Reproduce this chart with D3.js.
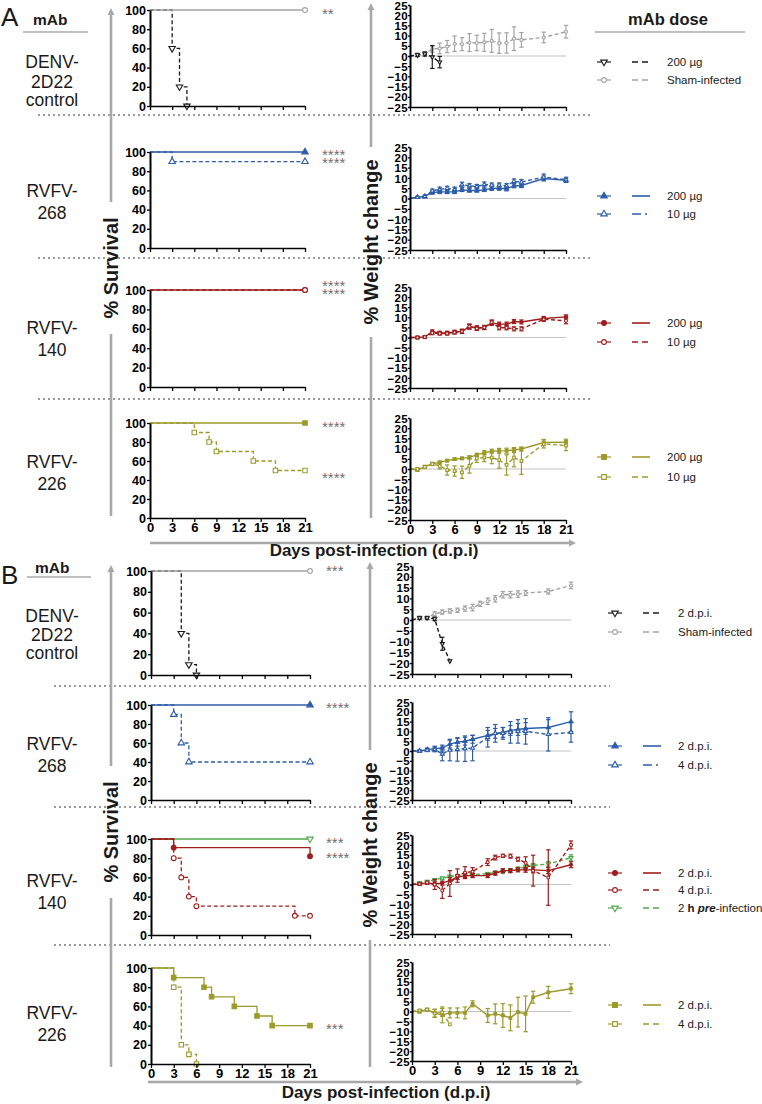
<!DOCTYPE html>
<html><head><meta charset="utf-8">
<script src="https://cdn.jsdelivr.net/npm/d3@7"></script>
<style>body{margin:0;background:#fff;} svg{display:block;font-family:"Liberation Sans",Arial,sans-serif;}</style>
</head><body><svg id="c" width="762" height="1104"></svg>
<script>
// ================= DATA =================
const DAY_TICKS = [0,3,6,9,12,15,18,21];
const SURV_TICKS = [0,20,40,60,80,100];
const WEIGHT_TICKS = [-25,-20,-15,-10,-5,0,5,10,15,20,25];

const ROW_LABELS = [["DENV-","2D22","control"],["RVFV-","268"],["RVFV-","140"],["RVFV-","226"]];
const LEGEND_A = [["200 µg","Sham-infected"],["200 µg","10 µg"],["200 µg","10 µg"],["200 µg","10 µg"]];
const LEGEND_B = [["2 d.p.i.","Sham-infected"],["2 d.p.i.","4 d.p.i."],["2 d.p.i.","4 d.p.i.","2 h pre-infection"],["2 d.p.i.","4 d.p.i."]];
const STARS_A = [["**"],["****","****"],["****","****"],["****"],["****"]];
const STARS_B = [["***"],["****"],["***"],["****"],["***"]];

// survival: [day, % surviving]
const survA_denv_200  = [[0,100],[3,60],[4,20],[5,0]];
const survA_denv_sham = [[0,100],[21,100]];
const survA_268_200   = [[0,100],[21,100]];
const survA_268_10    = [[0,100],[3,90],[21,90]];
const survA_140_200   = [[0,100],[21,100]];
const survA_140_10    = [[0,100],[21,100]];
const survA_226_200   = [[0,100],[21,100]];
const survA_226_10    = [[0,100],[6,90],[8,80],[9,70],[14,60],[17,50],[21,50]];

const survB_denv_2dpi = [[0,100],[4,40],[5,10],[6,0]];
const survB_denv_sham = [[0,100],[21,100]];
const survB_268_2dpi  = [[0,100],[21,100]];
const survB_268_4dpi  = [[0,100],[3,90],[4,60],[5,40],[21,40]];
const survB_140_2dpi  = [[0,100],[3,91],[21,82]];
const survB_140_4dpi  = [[0,100],[3,80],[4,60],[5,40],[6,30],[19,20],[21,20]];
const survB_140_pre   = [[0,100],[21,100]];
const survB_226_2dpi  = [[0,100],[3,90],[7,80],[8,70],[11,60],[14,50],[16,40],[21,40]];
const survB_226_4dpi  = [[0,100],[3,80],[4,20],[5,10],[6,0]];

// weight change: [day, mean %, error]
const wA_denv_sham = [[0,0,0],[1,0.5,0.7],[2,1,1],[3,3.4,1.5],[4,3.7,2.6],[5,4.6,3],[6,6,3.8],[7,5.8,3.2],[8,6.6,4.4],[9,6.4,3.8],[10,6.7,4.4],[11,7.4,5.6],[12,6.3,5],[13,6.4,5],[14,8.5,5.8],[15,7.9,3.6],[18,9.1,2.6],[21,11.9,3.1]];
const wA_denv_200  = [[0,0,0],[1,0.5,0.8],[2,1,1],[3,-0.5,5.6],[4,-3,2.8]];
const wA_268_200 = [[0,0,0],[1,0.6,0.4],[2,1,0.6],[3,2.9,0.8],[4,3.2,0.8],[5,3.2,0.8],[6,3.2,0.8],[7,4.2,0.8],[8,3.9,0.8],[9,3.9,0.8],[10,4.2,0.8],[11,4.9,1],[12,5,1],[13,4.7,1],[14,6.2,1],[15,6.3,1],[18,9.7,1.2],[21,8.8,1]];
const wA_268_10  = [[0,0,0],[1,0.6,0.4],[2,1,0.6],[3,3.7,0.9],[4,4.5,1],[5,4.9,1],[6,4.5,1],[7,6.7,1.2],[8,6.2,1],[9,5.8,1],[10,6.8,1.2],[11,6.5,1],[12,6.5,1],[13,6.2,1],[14,8.3,1.2],[15,8,1.2],[18,10.4,1.5],[21,9.1,1.2]];
const wA_140_200 = [[0,0,0],[1,0,0.6],[2,0.3,0.6],[3,2.8,1],[4,2.3,0.8],[5,2.3,0.8],[6,2.8,0.8],[7,3.1,1],[8,5.3,1.2],[9,4.8,1],[10,4.9,1],[11,7.2,1.2],[12,6.6,1],[13,6.6,1],[14,7.9,1],[15,7.7,1],[18,9.4,1],[21,10.2,1]];
const wA_140_10  = [[0,0,0],[1,0,0.6],[2,0.2,0.6],[3,2.2,0.8],[4,2,0.8],[5,2,0.8],[6,2.5,0.8],[7,3,1],[8,5.5,1.2],[9,4.5,1],[10,5,1],[11,7.5,1.2],[12,4.8,1],[13,4.8,1],[14,4.3,1],[15,4.3,1],[18,9,1],[21,8.3,1.5]];
const wA_226_200 = [[0,0,0],[1,-0.5,0.6],[2,1.1,0.6],[3,2.5,0.6],[4,3.3,0.6],[5,4.1,0.6],[6,4.8,0.6],[7,5.2,0.6],[8,5.7,0.8],[9,6.9,0.8],[10,8,1],[11,8.7,1],[12,8.9,1.2],[13,9,1.2],[14,9.3,1.2],[15,9.8,1],[18,13,1.5],[21,13.1,1.5]];
const wA_226_10  = [[0,0,0],[1,0,0.6],[2,1,0.8],[3,2.5,0.8],[4,1.5,1.5],[5,-0.5,2.5],[6,-1,2.5],[7,-1.6,3],[8,1.5,3.5],[9,5.2,2],[10,5.6,2],[11,5.6,3],[12,4.4,4],[13,2,5],[14,5.6,4.5],[15,3.9,6.5],[18,12.3,2],[21,11.5,2.5]];

const wB_denv_sham = [[0,0,0],[1,1,0.8],[2,1,0.8],[3,2.8,1],[4,3.7,1],[5,4.2,1],[6,4.5,1],[7,5.3,1.2],[8,5.7,1.5],[9,7.5,1.2],[10,8.7,1.5],[11,9.8,1.5],[12,11.7,1.5],[13,11.7,1.5],[14,12,1.5],[15,12.5,1.2],[18,13.2,1.2],[21,16,1.5]];
const wB_denv_2dpi = [[0,0,0],[1,1,0.6],[2,1,0.6],[3,0.5,0.8],[4,-11,3],[5,-19,0]];
const wB_268_2dpi = [[0,0,0],[1,0,0.5],[2,0.7,0.8],[3,1.2,1.2],[4,1.5,1.5],[5,3.5,2],[6,4.5,2],[7,5,2],[8,6,2],[10,8,2.5],[11,9,2.5],[12,9.5,2.5],[13,10.5,2.5],[14,11,3],[15,11.5,3],[18,12,4],[21,15,5]];
const wB_268_4dpi = [[0,0,0],[1,0,0.5],[2,0.5,0.8],[3,0.8,1.2],[4,-1.5,3.5],[5,0.5,5.5],[6,0.8,6],[7,1.2,6.5],[8,1.5,6.5],[10,7,5],[11,9,4.5],[12,9,3],[13,9.5,5.5],[14,10,6],[15,10,6.5],[18,8.5,8.5],[21,9.5,5]];
const wB_140_2dpi = [[0,0,0],[1,0.3,0.6],[2,0.8,0.6],[3,0.3,1],[4,0.7,1],[5,2,1.5],[6,3.7,1.2],[7,4.5,1],[8,4.5,1],[10,4.5,1],[11,5.7,1],[12,7,1],[13,7,1],[14,7.4,1],[15,7.4,1.2],[16,7.4,1.5],[18,7,1.5],[21,10,1.5]];
const wB_140_4dpi = [[0,0,0],[1,0.3,0.6],[2,1,0.6],[3,0,2.5],[4,-3,4],[5,0.5,6.5],[6,4.5,3.4],[7,6,3],[8,6.5,2],[10,11.3,1.7],[11,13.6,1.2],[12,14.5,0.8],[13,14.3,1],[14,12.8,1],[15,11,3],[16,7,7.8],[18,3.5,14],[21,20,2]];
const wB_140_pre  = [[0,0,0],[1,0.8,0.5],[2,1.5,0.5],[3,2.4,0.6],[4,3.2,0.6],[5,4,0.6],[6,4.3,0.6],[7,4.8,0.6],[8,5,0.6],[10,5.5,0.6],[11,6,0.8],[12,6.5,0.8],[13,7,0.8],[14,7.9,1],[15,8.8,1],[16,9.6,1],[18,10.4,1.2],[21,13.5,1.5]];
const wB_226_2dpi = [[0,0,0],[1,0,0.8],[2,1,0.5],[3,-0.8,2],[4,-1.7,4],[5,-0.7,2.5],[6,-0.7,2.5],[7,-0.7,3],[8,3.9,1.5],[10,-2,3.5],[11,-1.2,5],[12,-2,6],[13,-3.2,6.5],[14,-0.3,7.5],[15,-1.2,9],[16,7.2,3],[18,9.7,3],[21,11.5,2.5]];
const wB_226_4dpi = [[0,0,0],[1,0.5,0.6],[2,1,0.6],[3,-1,2],[4,-0.5,2],[5,-6.5,0]];

// ================= STYLE / LAYOUT =================
const C = {black:"#1b1b1b", gray:"#a3a3a3", blue:"#2e5da8", red:"#9f1d1d", olive:"#9c9a2b", green:"#4fa84a"};
const svg = d3.select("#c");
const FONT = "'Liberation Sans', Arial, sans-serif";

function sym(type){
  return {tri:d3.symbolTriangle, itri:d3.symbolTriangle, circ:d3.symbolCircle, sq:d3.symbolSquare}[type];
}
function drawMarker(g, cx, cy, s, size){
  return g.append("path").attr("d", d3.symbol().type(sym(s.sym)).size(size)())
    .attr("transform", `translate(${cx},${cy})` + (s.sym==="itri" ? " rotate(180)" : ""))
    .attr("fill", s.filled ? s.color : "#fff").attr("stroke", s.color).attr("stroke-width", 1.1);
}
function styleAxis(sel, fs){
  sel.select(".domain").attr("stroke","#000").attr("stroke-width",1.6);
  sel.selectAll(".tick line").attr("stroke","#000").attr("stroke-width",1.3);
  sel.selectAll(".tick text").attr("font-family",FONT).attr("font-weight","bold").attr("font-size",fs).attr("fill","#000");
}

function survPanel(L, series, showLabels){
  const x = d3.scaleLinear().domain([0,21]).range([L.x0,L.x1]);
  const y = d3.scaleLinear().domain([0,100]).range([L.yb,L.yt]);
  const g = svg.append("g");
  const line = d3.line().x(d=>x(d[0])).y(d=>y(d[1])).curve(d3.curveStepAfter);
  series.forEach(s=>{
    g.append("path").attr("d", line(s.data)).attr("fill","none").attr("stroke",s.color)
      .attr("stroke-width",1.3).attr("stroke-dasharray", s.dash ? "4,2.5" : null);
  });
  series.forEach(s=>{
    s.data.filter(d=>d[0]>0).forEach(d=> drawMarker(g, x(d[0]), y(d[1]), s, s.sym==="sq"?20:18));
  });
  const xa = g.append("g").attr("transform",`translate(0,${L.yb})`)
    .call(d3.axisBottom(x).tickValues(DAY_TICKS).tickSizeInner(4).tickSizeOuter(0).tickPadding(1)
      .tickFormat(showLabels ? d3.format("d") : ()=>""));
  styleAxis(xa, 13);
  const ya = g.append("g").attr("transform",`translate(${L.x0},0)`)
    .call(d3.axisLeft(y).tickValues(SURV_TICKS).tickSizeInner(3).tickSizeOuter(0).tickPadding(1));
  styleAxis(ya, 12.5);
  ya.select(".domain").attr("stroke-width",2);
  return {x,y};
}

function weightPanel(L, series, showLabels){
  const x = d3.scaleLinear().domain([0,21]).range([L.x0,L.x1]);
  const y = d3.scaleLinear().domain([-25,25]).range([L.yb,L.yt]);
  const g = svg.append("g");
  g.append("line").attr("x1",x(0)).attr("x2",x(21)).attr("y1",y(0)).attr("y2",y(0))
    .attr("stroke","#c4c4c4").attr("stroke-width",1.1);
  const line = d3.line().x(d=>x(d[0])).y(d=>y(d[1]));
  series.forEach(s=>{
    g.append("path").attr("d", line(s.data)).attr("fill","none").attr("stroke",s.color)
      .attr("stroke-width",1.4).attr("stroke-dasharray", s.dash ? "4,2.5" : null);
    s.data.forEach(d=>{
      if(d[2]>0){
        const cx = x(d[0]);
        g.append("line").attr("x1",cx).attr("x2",cx).attr("y1",y(d[1]-d[2])).attr("y2",y(d[1]+d[2])).attr("stroke",s.color).attr("stroke-width",1.2);
        [d[1]-d[2], d[1]+d[2]].forEach(v=> g.append("line").attr("x1",cx-2.2).attr("x2",cx+2.2).attr("y1",y(v)).attr("y2",y(v)).attr("stroke",s.color).attr("stroke-width",1.2));
      }
      if(d[0]>0) drawMarker(g, x(d[0]), y(d[1]), s, 7);
    });
  });
  const xa = g.append("g").attr("transform",`translate(0,${L.yb})`)
    .call(d3.axisBottom(x).tickValues(DAY_TICKS).tickSizeInner(4).tickSizeOuter(0).tickPadding(1)
      .tickFormat(showLabels ? d3.format("d") : ()=>""));
  styleAxis(xa, 13);
  const ya = g.append("g").attr("transform",`translate(${L.x0},0)`)
    .call(d3.axisLeft(y).tickValues(WEIGHT_TICKS).tickSizeInner(2).tickSizeOuter(0).tickPadding(0));
  styleAxis(ya, 11.5);
  ya.select(".domain").attr("stroke-width",2);
  ya.selectAll(".tick text").attr("dy","0.36em").attr("letter-spacing","0.3");
  return {x,y};
}

function text(x,y,str,opt={}){
  return svg.append("text").attr("x",x).attr("y",y).text(str).attr("font-family",FONT)
    .attr("font-size",opt.fs||12).attr("font-weight",opt.fw||"normal").attr("fill",opt.fill||"#1a1a1a")
    .attr("text-anchor",opt.anchor||"start");
}
function dotted(y,x0,x1){
  svg.append("line").attr("x1",x0).attr("x2",x1).attr("y1",y).attr("y2",y)
    .attr("stroke","#9a9a9a").attr("stroke-width",2).attr("stroke-dasharray","2,3");
}
function vArrow(x, yTip, yBot, label, cy, fs){
  const half = label.length*fs*0.29 + 8;
  const col = "#a8a8a8";
  svg.append("line").attr("x1",x).attr("x2",x).attr("y1",yBot).attr("y2",cy+half).attr("stroke",col).attr("stroke-width",2.6);
  svg.append("line").attr("x1",x).attr("x2",x).attr("y1",cy-half).attr("y2",yTip+6).attr("stroke",col).attr("stroke-width",2.6);
  svg.append("path").attr("d",`M${x-3.5},${yTip+7}L${x},${yTip}L${x+3.5},${yTip+7}Z`).attr("fill",col);
  svg.append("text").attr("transform",`translate(${x+fs*0.36},${cy}) rotate(-90)`).text(label)
    .attr("font-family",FONT).attr("font-size",fs).attr("font-weight","bold").attr("text-anchor","middle").attr("fill","#1a1a1a");
}
function hArrow(y, x0, xTip){
  const col = "#a8a8a8";
  svg.append("line").attr("x1",x0).attr("x2",xTip-6).attr("y1",y).attr("y2",y).attr("stroke",col).attr("stroke-width",2.6);
  svg.append("path").attr("d",`M${xTip-7},${y-3.5}L${xTip},${y}L${xTip-7},${y+3.5}Z`).attr("fill",col);
}
function legendItem(xm, xl, xt, y, s, label, fs){
  svg.append("line").attr("x1",xm-7).attr("x2",xm+7).attr("y1",y).attr("y2",y).attr("stroke",s.color).attr("stroke-width",1.2);
  const g = svg.append("g");
  drawMarker(g, xm, y, s, s.sym==="sq"?22:18);
  svg.append("line").attr("x1",xl).attr("x2",xl+18).attr("y1",y).attr("y2",y).attr("stroke",s.color).attr("stroke-width",1.6)
    .attr("stroke-dasharray", s.dash ? (s.dashdot ? "9,4,2" : "6,4") : null);
  const t = svg.append("text").attr("x",xt).attr("y",y+4).attr("font-family",FONT).attr("font-size",fs).attr("fill","#1a1a1a");
  if(label === "2 h pre-infection"){
    t.append("tspan").text("2 ");
    t.append("tspan").text("h").attr("font-weight","bold");
    t.append("tspan").text(" ");
    t.append("tspan").text("pre").attr("font-weight","bold").attr("font-style","italic");
    t.append("tspan").text("-infection");
  } else t.text(label);
}
function stars(x, y, lines, gap){
  const t = svg.append("text").attr("x",x).attr("y",y).attr("font-family",FONT).attr("font-size",15).attr("fill","#707070");
  lines.forEach((s,i)=> t.append("tspan").attr("x",x).attr("dy", i===0?0:gap).text(s));
}

// ---------- series definitions (drawing order: later = on top) ----------
const S = (data,color,sym,filled,dash,dashdot)=>({data,color,sym,filled,dash,dashdot});
const survA = [
  [S(survA_denv_200,C.black,"itri",false,true), S(survA_denv_sham,C.gray,"circ",false,false)],
  [S(survA_268_200,C.blue,"tri",true,false), S(survA_268_10,C.blue,"tri",false,true,true)],
  [S(survA_140_200,C.red,"circ",true,false), S(survA_140_10,C.red,"circ",false,true)],
  [S(survA_226_200,C.olive,"sq",true,false), S(survA_226_10,C.olive,"sq",false,true)]
];
const weightA = [
  [S(wA_denv_sham,C.gray,"circ",false,true), S(wA_denv_200,C.black,"itri",false,true)],
  [S(wA_268_200,C.blue,"tri",true,false), S(wA_268_10,C.blue,"tri",false,true,true)],
  [S(wA_140_200,C.red,"circ",true,false), S(wA_140_10,C.red,"circ",false,true)],
  [S(wA_226_200,C.olive,"sq",true,false), S(wA_226_10,C.olive,"sq",false,true)]
];
const legA = [
  [S(null,C.black,"itri",false,true), S(null,C.gray,"circ",false,true)],
  [S(null,C.blue,"tri",true,false), S(null,C.blue,"tri",false,true,true)],
  [S(null,C.red,"circ",true,false), S(null,C.red,"circ",false,true)],
  [S(null,C.olive,"sq",true,false), S(null,C.olive,"sq",false,true)]
];
const survB = [
  [S(survB_denv_2dpi,C.black,"itri",false,true), S(survB_denv_sham,C.gray,"circ",false,false)],
  [S(survB_268_2dpi,C.blue,"tri",true,false), S(survB_268_4dpi,C.blue,"tri",false,true,true)],
  [S(survB_140_pre,C.green,"itri",false,false), S(survB_140_2dpi,C.red,"circ",true,false), S(survB_140_4dpi,C.red,"circ",false,true)],
  [S(survB_226_2dpi,C.olive,"sq",true,false), S(survB_226_4dpi,C.olive,"sq",false,true)]
];
const weightB = [
  [S(wB_denv_sham,C.gray,"circ",false,true), S(wB_denv_2dpi,C.black,"itri",false,true)],
  [S(wB_268_2dpi,C.blue,"tri",true,false), S(wB_268_4dpi,C.blue,"tri",false,true,true)],
  [S(wB_140_pre,C.green,"itri",false,true), S(wB_140_2dpi,C.red,"circ",true,false), S(wB_140_4dpi,C.red,"circ",false,true)],
  [S(wB_226_2dpi,C.olive,"sq",true,false), S(wB_226_4dpi,C.olive,"sq",false,true)]
];
const legB = [
  [S(null,C.black,"itri",false,true), S(null,C.gray,"circ",false,true)],
  [S(null,C.blue,"tri",true,false), S(null,C.blue,"tri",false,true,true)],
  [S(null,C.red,"circ",true,false), S(null,C.red,"circ",false,true), S(null,C.green,"itri",false,true)],
  [S(null,C.olive,"sq",true,false), S(null,C.olive,"sq",false,true)]
];

// ---------- layout ----------
const survRowsA = [[10,106],[152,248],[290,387],[423,518]];
const weightRowsA = [[5,107],[147,250],[287,388],[418,520]];
const survRowsB = [[571,675],[705,800],[839,935],[968,1064]];
const weightRowsB = [[566,674],[702,800],[835,934],[962,1061]];
const rowLabelYA = [[68,88,106],[197,219],[334,356],[468,490]];
const rowLabelYB = [[622,641,659],[750,772],[887,909],[1019,1041]];
const legYA = [[62,80],[196,214],[323,342],[457,477]];
const legYB = [[613,632],[746,765],[873,890,908],[1005,1024]];

// separators
[115,258,399].forEach(y=>dotted(y,38,592));
[686,807,945].forEach(y=>dotted(y,54,610));

// arrows
vArrow(111, 8, 516, "% Survival", 268, 20);
vArrow(371, 3, 518, "% Weight change", 242, 20);
hArrow(543, 150, 576);
vArrow(111, 565, 1067, "% Survival", 832, 20);
vArrow(370, 562, 1067, "% Weight change", 845, 20);
hArrow(1082, 148, 583);

// panel letters & headers
text(1,26,"A",{fs:26});
text(33,25,"mAb",{fs:15.5,fw:"bold"});
svg.append("line").attr("x1",23).attr("x2",88).attr("y1",32).attr("y2",32).attr("stroke","#aaa").attr("stroke-width",1.3);
text(1,584,"B",{fs:26});
text(35,573,"mAb",{fs:15.5,fw:"bold"});
svg.append("line").attr("x1",27).attr("x2",91).attr("y1",577).attr("y2",577).attr("stroke","#aaa").attr("stroke-width",1.3);
text(668,25,"mAb dose",{fs:16.5,fw:"bold",anchor:"middle"});
svg.append("line").attr("x1",595).attr("x2",745).attr("y1",32).attr("y2",32).attr("stroke","#aaa").attr("stroke-width",1.3);

// rows
for(let i=0;i<4;i++){
  survPanel({x0:150,x1:305,yt:survRowsA[i][0],yb:survRowsA[i][1]}, survA[i], i===3);
  weightPanel({x0:410,x1:566,yt:weightRowsA[i][0],yb:weightRowsA[i][1]}, weightA[i], i===3);
  survPanel({x0:151,x1:310,yt:survRowsB[i][0],yb:survRowsB[i][1]}, survB[i], i===3);
  weightPanel({x0:412,x1:571,yt:weightRowsB[i][0],yb:weightRowsB[i][1]}, weightB[i], i===3);
  ROW_LABELS[i].forEach((t,j)=>{
    text(52,rowLabelYA[i][j],t,{fs:17.5,anchor:"middle"});
    text(52,rowLabelYB[i][j],t,{fs:17.5,anchor:"middle"});
  });
  LEGEND_A[i].forEach((t,j)=> legendItem(604,632,667,legYA[i][j],legA[i][j],t,11.5));
  LEGEND_B[i].forEach((t,j)=> legendItem(615,643,678,legYB[i][j],legB[i][j],t,11.5));
}

// significance stars
const starYA = [11,152,283,424,475];
const starYB = [568,705,840,855,1026];
STARS_A.forEach((s,i)=> stars(322, starYA[i]+8, s, 8));
STARS_B.forEach((s,i)=> stars(326, starYB[i]+8, s, 8));

// x-axis titles
text(374,556,"Days post-infection (d.p.i)",{fs:17,fw:"bold",anchor:"middle"});
text(386,1098,"Days post-infection (d.p.i)",{fs:17,fw:"bold",anchor:"middle"});
</script></body></html>
